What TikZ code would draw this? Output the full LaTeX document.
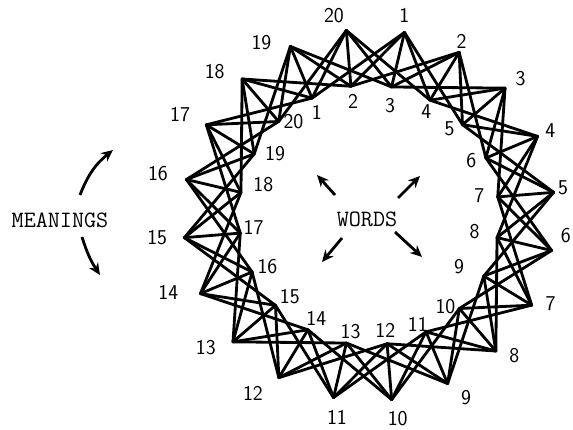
\documentclass[tikz,border=0pt]{standalone}
\usepackage{tikz}
\usetikzlibrary{arrows.meta}

\begin{document}
\begin{tikzpicture}[x=0.03cm, y=0.03cm, >=Stealth,
  link/.style={line width=2.4pt, line cap=round, line join=round},
  num/.style={font=\fontsize{18}{20}\selectfont\sffamily, inner sep=0pt},
  caption/.style={font=\fontsize{20}{22}\selectfont\ttfamily},
  pointer/.style={->, line width=2.4pt, >={Stealth[length=10pt,width=9pt]}}]
  \useasboundingbox (-369,-215) rectangle (204,215);
  % meanings on the outer ring, words on the inner ring
  \foreach \i in {1,...,20} {
    \coordinate (m\i) at ({97-18*\i}:186);
    \coordinate (w\i) at ({134-18*\i}:130);
  }
  % every meaning joined to five neighbouring words
  \foreach \i in {1,...,20}
    \foreach \k in {0,...,4} {
      \pgfmathtruncatemacro{\j}{mod(\i+\k-1,20)+1}
      \draw[link] (m\i) -- (w\j);
    }
  % numbers
  \foreach \i/\a/\r in {1/10/203, 2/28/197, 3/48/204, 4/65/200, 5/82/196,
      6/96/198, 7/116/202, 8/134/202, 9/152/207, 10/172/206,
      11/189/205, 12/213/213, 13/231/210, 14/249/215, 15/264/213,
      16/281/215, 17/298/214, 18/313/211, 19/328/203, 20/350/202}
    \node[num] (ml\i) at ({90-\a}:\r) {\i};
  \foreach \i/\a/\r in {1/333/115, 2/352/115, 3/11/111, 4/29/118, 5/43/118,
      6/62/116, 7/80/112, 8/99/107, 9/120/104, 10/140/119,
      11/156/120, 12/172/117, 13/189/118, 14/207/116, 15/224/114,
      16/243/114, 17/264/116, 18/286/110, 19/303/112, 20/321/120}
    \node[num] (wl\i) at ({90-\a}:\r) {\i};
  % captions
  \node[caption] (meanings) at (-309,-5) {MEANINGS};
  \node[caption] (words) at (-2,-4) {WORDS};
  \draw[pointer] ([shift={(20,25)}]meanings.center) to[bend left=15] ++(33,45);
  \draw[pointer] ([shift={(22,-17)}]meanings.center) to[bend right=8] ++(18,-38);
  \draw[pointer] ([shift={(-32,24)}]words.center) -- ++(-18,20);
  \draw[pointer] ([shift={(31,21)}]words.center) -- ++(22,22);
  \draw[pointer] ([shift={(-25,-19)}]words.center) -- ++(-20,-24);
  \draw[pointer] ([shift={(28,-13)}]words.center) -- ++(27,-25);
\end{tikzpicture}
\end{document}
